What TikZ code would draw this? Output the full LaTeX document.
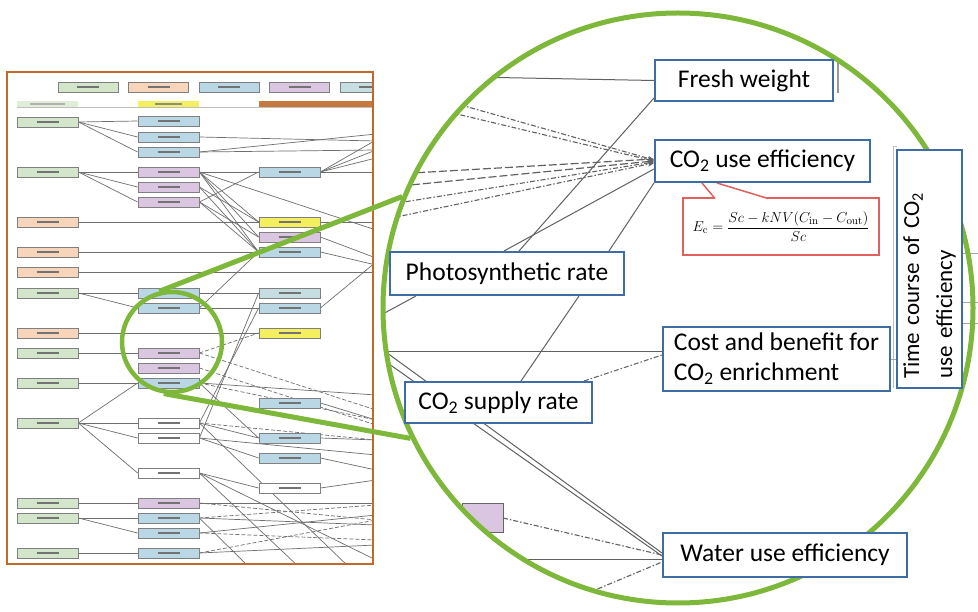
\documentclass[tikz,border=0pt]{standalone}
\usepackage[no-math]{fontspec}
\setmainfont{Carlito}
\usetikzlibrary{arrows.meta,calc}
\definecolor{pgreen}{HTML}{7DB83A}
\definecolor{pbrown}{HTML}{C0692A}
\definecolor{bblue}{HTML}{3E6DA6}
\definecolor{cred}{HTML}{E0605C}
\definecolor{fgreen}{HTML}{D3E6CB}
\definecolor{forange}{HTML}{F7D5BA}
\definecolor{fblue}{HTML}{BAD7E6}
\definecolor{fpurple}{HTML}{DAC6E0}
\definecolor{fyellow}{HTML}{F4EF5E}
\definecolor{fteal}{HTML}{C6DDE2}
\definecolor{wgray}{HTML}{6E6E6E}
\pgfdeclarelayer{back}
\pgfdeclarelayer{bg}
\pgfsetlayers{back,bg,main}
\newcommand\blurtext{\textcolor{black!55}{\rule{22pt}{1.6pt}}}
\newcommand\mnode[4]{\node[mini,fill=#2] (#1) at (#3,#4) {\blurtext};}
\begin{document}
\begin{tikzpicture}[x=1pt,y=-1pt,
  mini/.style={draw=black!50,line width=0.8pt,minimum width=61pt,minimum height=10pt,inner sep=0pt},
  wire/.style={draw=wgray,line width=0.7pt},
  wired/.style={wire,dash pattern=on 4pt off 2pt},
  thin/.style={draw=black!62,line width=1pt},
  dsh/.style={thin,line width=1.2pt,dash pattern=on 8pt off 3pt},
  dshdot/.style={thin,line width=1.1pt,dash pattern=on 5pt off 2pt on 1.5pt off 2pt},
  tip/.style={-{Stealth[length=6pt,width=5pt]}},
  cbox/.style={draw=bblue,line width=2pt,fill=white,inner sep=0pt,font=\fontsize{25.5}{30}\selectfont},
  ring/.style={circle,draw=pgreen,inner sep=0pt}]
\useasboundingbox (0,0) rectangle (978,612);
\begin{pgfonlayer}{back}
\fill[white] (0,0) rectangle (978,612);
\end{pgfonlayer}

% ---------------- left panel ----------------
\begin{scope}
\clip (7,72) rectangle (373,564);
% header
\node[mini,fill=fgreen,minimum width=60pt] (h1) at (88,87) {\blurtext};
\node[mini,fill=forange,minimum width=60pt] (h2) at (158.5,87) {\blurtext};
\node[mini,fill=fblue,minimum width=60pt] (h3) at (229,87) {\blurtext};
\node[mini,fill=fpurple,minimum width=60pt] (h4) at (299.5,87) {\blurtext};
\node[mini,fill=fteal,minimum width=60pt] (h5) at (370,87) {\blurtext};
\draw[black!25,line width=0.8pt] (17,107.5) -- (373,107.5);
\fill[fgreen!70] (17,101) rectangle (78,107);
\fill[black!30] (30,103.5) rectangle (65,105);
\fill[fyellow] (138,101) rectangle (199,107);
\fill[black!45] (155,103.3) rectangle (182,105);
\fill[pbrown!90] (259,101) rectangle (380,107);
% column A
\mnode{a1}{fgreen}{47.5}{122}
\mnode{a2}{fgreen}{47.5}{172}
\mnode{a3}{forange}{47.5}{222}
\mnode{a4}{forange}{47.5}{252}
\mnode{a5}{forange}{47.5}{272}
\mnode{a6}{fgreen}{47.5}{293}
\mnode{a7}{forange}{47.5}{333}
\mnode{a8}{fgreen}{47.5}{353}
\mnode{a9}{fgreen}{47.5}{383}
\mnode{a10}{fgreen}{47.5}{423}
\mnode{a11}{fgreen}{47.5}{503}
\mnode{a12}{fgreen}{47.5}{518}
\mnode{a13}{fgreen}{47.5}{553}
% column B
\mnode{b1}{fblue}{168.5}{121}
\mnode{b2}{fblue}{168.5}{137}
\mnode{b3}{fblue}{168.5}{152}
\mnode{b4}{fpurple}{168.5}{172}
\mnode{b5}{fpurple}{168.5}{187}
\mnode{b6}{fpurple}{168.5}{202}
\mnode{b7}{fblue}{168.5}{293}
\mnode{b8}{fblue}{168.5}{308}
\mnode{b9}{fpurple}{168.5}{353}
\mnode{b10}{fpurple}{168.5}{368}
\mnode{b11}{fblue}{168.5}{383}
\mnode{b12}{white}{168.5}{423}
\mnode{b13}{white}{168.5}{438}
\mnode{b14}{white}{168.5}{473}
\mnode{b15}{fpurple}{168.5}{503}
\mnode{b16}{fblue}{168.5}{518}
\mnode{b17}{fblue}{168.5}{533}
\mnode{b18}{fblue}{168.5}{553}
% column C
\mnode{c1}{fblue}{289.5}{172}
\mnode{c2}{fyellow}{289.5}{222}
\mnode{c3}{fpurple}{289.5}{237}
\mnode{c4}{fblue}{289.5}{252}
\mnode{c5}{fteal}{289.5}{293}
\mnode{c6}{fblue}{289.5}{308}
\mnode{c7}{fyellow}{289.5}{333}
\mnode{c8}{fblue}{289.5}{403}
\mnode{c9}{fblue}{289.5}{438}
\mnode{c10}{fblue}{289.5}{458}
\mnode{c11}{white}{289.5}{488}
\foreach \n/\yy in {e1/134,e2/141,e3/150,e4/172,e5/140,e6/158,e7/222,e8/230,e9/258,e10/265,e11/272,e12/262,e13/395,e14/410,e15/420,e16/425,e17/440,e18/455,e19/470,e20/480,e21/503,e22/520,e23/505,e24/525,e25/515,e26/540,e27/545,e28/560}
  {\coordinate (\n) at (376,\yy);}
\coordinate (bt1) at (350,568);
\coordinate (bt2) at (300,568);
\coordinate (bt3) at (250,568);
\begin{pgfonlayer}{bg}
\begin{scope}
\clip (7,72) rectangle (373,564);
\foreach \s/\t in {a1/b1,a1/b2,a1/b3,a2/b4,a2/b5,a2/b6,a6/b7,a6/b8,a8/b9,a9/b11,a10/b12,a10/b13,a10/b14,a10/b11,a11/b15,a12/b16,a12/b17,a13/b18,a3/c2,a4/c4,a7/c7,b4/c1,b6/c1,b4/c2,b4/c3,b5/c2,b5/c4,b6/c3,b6/c4,b4/c4,b7/c5,b8/c6,b8/c4,b12/c6,b13/c5,b11/c9,b12/c9,b13/c10,b14/c11}
  {\draw[wire] (\s.east) -- (\t.west);}
\foreach \s/\t in {a5/e11,b2/e2,b3/e1,b3/e3,b4/e8,c1/e4,c1/e5,c1/e3,c1/e6,c2/e7,c3/e9,c4/e10,c6/e12,b11/e13,b12/bt1,b13/e18,b14/bt2,c8/e15,c9/e17,c10/e19,c11/e20,b15/e21,b16/e24,b17/e25,b18/e27,b16/bt3,b14/e28}
  {\draw[wire] (\s.east) -- (\t);}
\foreach \s/\t in {b9/c7}
  {\draw[wired] (\s.east) -- (\t.west);}
\foreach \s/\t in {b9/e14,b10/e16,b11/e15,b15/e22,b16/e23,b17/e26,b18/e22,b12/e17}
  {\draw[wired] (\s.east) -- (\t);}
\end{scope}
\end{pgfonlayer}
\end{scope}
\draw[pbrown,line width=2.5pt] (7,72) rectangle (373,564);

% ---------------- magnifier ----------------
\node[ring,line width=5pt,minimum size=590pt] (bc) at (678,308) {};
\node[ring,line width=4.5pt,minimum size=100pt] (sc) at (172,342) {};
\draw[pgreen,line width=5pt] (sc.104.6) -- (bc.158);
\draw[pgreen,line width=5pt] (sc.261.7) -- (bc.206.5);

% boxes in the zoomed view
\node[draw=cred,line width=1.5pt,fill=white,minimum width=196pt,minimum height=57pt,inner sep=0pt] (fx) at (781,226.5)
  {\fontsize{15}{18}\selectfont $\displaystyle E_{\mathrm{c}}=\frac{Sc-kNV(C_{\mathrm{in}}-C_{\mathrm{out}})}{Sc}$};
\fill[white] (715,199) -- (702,183) -- (717,183) -- (768,199) -- cycle;
\draw[cred,line width=1.5pt] (715,198.5) -- (702,183) (717,183) -- (768,198.5);
\node[cbox,minimum width=178pt,minimum height=41pt] (fw) at (744,80.5) {Fresh weight};
\node[cbox,minimum width=215pt,minimum height=42pt] (co) at (762.5,161) {CO\textsubscript{2} use efficiency};
\node[cbox,minimum width=234pt,minimum height=43pt] (ps) at (507,273.5) {Photosynthetic rate};
\node[cbox,minimum width=227pt,minimum height=64pt,align=left] (cb) at (776.5,359) {Cost and benefit for\\CO\textsubscript{2} enrichment};
\node[cbox,minimum width=187pt,minimum height=41pt] (csr) at (498.5,402.5) {CO\textsubscript{2} supply rate};
\node[cbox,minimum width=244pt,minimum height=44pt] (wue) at (785,555) {Water use efficiency};
\node[cbox,rotate=90,minimum width=238pt,minimum height=65pt,text width=220pt,align=left,font=\fontsize{23}{33}\selectfont] (tc) at (929.5,269) {Time course of CO\textsubscript{2}\\use efficiency};

% connectors in the zoomed view
\coordinate (p1) at (470,77);
\coordinate (p2) at (440,99);
\coordinate (p3) at (440,110);
\coordinate (p4) at (395,174);
\coordinate (p5) at (390,187);
\coordinate (p6) at (385,205);
\coordinate (p7) at (382,220);
\coordinate (p8) at (368,322);
\coordinate (p9) at (375,352);
\coordinate (p10) at (372,342);
\coordinate (p11) at (372,352);
\coordinate (p12) at (490,559);
\coordinate (p13) at (588,593);
\coordinate (pk) at (503,518);
\begin{pgfonlayer}{bg}
\begin{scope}
\clip (678,308) circle[radius=295pt];
\draw[black!60,line width=1pt,fill=fpurple] (462,503) rectangle (503,532);
\draw[thin] (p1) -- (fw.west);
\draw[dshdot,tip] (p2) -- ($(co.west)+(0,-1)$);
\draw[dshdot,tip] (p3) -- ($(co.west)+(0,0)$);
\draw[dsh,tip] (p4) -- ($(co.west)+(0,-2)$);
\draw[dsh,tip] (p5) -- ($(co.west)+(0,0)$);
\draw[dshdot,tip] (p6) -- ($(co.west)+(0,1)$);
\draw[dshdot,tip] (p7) -- ($(co.west)+(0,2)$);
\draw[thin] ($(ps.north west)+(130,0)$) -- ($(fw.south west)+(0,-4)$);
\draw[thin] ($(ps.north west)+(115,0)$) -- ($(co.west)+(0,8)$);
\draw[thin] ($(ps.north west)+(220,0)$) -- (co.south west);
\draw[thin] ($(ps.south west)+(27,0)$) -- (p8);
\draw[thin] ($(ps.south west)+(190,0)$) -- ($(csr.north west)+(117,0)$);
\draw[thin] (p9) -- ($(cb.west)+(0,-7)$);
\draw[dshdot] ($(csr.north east)+(-9,0)$) -- ($(cb.west)+(0,-4)$);
\draw[thin] (p10) -- ($(wue.west)+(0,-2)$);
\draw[thin] (p11) -- ($(wue.west)+(0,1)$);
\draw[dshdot] (pk) -- (wue.west);
\draw[thin] (p12) -- ($(wue.west)+(0,4)$);
\draw[dshdot] (p13) -- ($(wue.west)+(0,7)$);
\end{scope}
% small fragments of other connectors
\draw[black!40,line width=1.5pt] (838,62) -- (838,93);
\draw[black!25,line width=1pt] (893,147) -- (893,388) (893,147) -- (897,147);
\draw[black!35,line width=0.8pt] (962,253) -- (978,253) (962,302) -- (978,302) (962,323) -- (978,323) (890,359) -- (897,359);
\end{pgfonlayer}
\end{tikzpicture}
\end{document}
